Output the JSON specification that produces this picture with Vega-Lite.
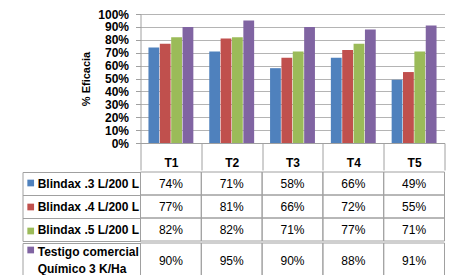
{
  "$schema": "https://vega.github.io/schema/vega-lite/v6.json",
  "padding": {"left": 21.5, "top": 8, "right": 5, "bottom": 0},
  "spacing": 0,
  "config": {"view": {"stroke": null}, "font": "Liberation Sans"},
  "datasets": {
    "d": [
      {"t": "T1", "s": "Blindax .3 L/200 L", "v": 0.74},
      {"t": "T1", "s": "Blindax .4 L/200 L", "v": 0.77},
      {"t": "T1", "s": "Blindax .5 L/200 L", "v": 0.82},
      {"t": "T1", "s": "Testigo comercial Químico 3 K/Ha", "v": 0.90},
      {"t": "T2", "s": "Blindax .3 L/200 L", "v": 0.71},
      {"t": "T2", "s": "Blindax .4 L/200 L", "v": 0.81},
      {"t": "T2", "s": "Blindax .5 L/200 L", "v": 0.82},
      {"t": "T2", "s": "Testigo comercial Químico 3 K/Ha", "v": 0.95},
      {"t": "T3", "s": "Blindax .3 L/200 L", "v": 0.58},
      {"t": "T3", "s": "Blindax .4 L/200 L", "v": 0.66},
      {"t": "T3", "s": "Blindax .5 L/200 L", "v": 0.71},
      {"t": "T3", "s": "Testigo comercial Químico 3 K/Ha", "v": 0.90},
      {"t": "T4", "s": "Blindax .3 L/200 L", "v": 0.66},
      {"t": "T4", "s": "Blindax .4 L/200 L", "v": 0.72},
      {"t": "T4", "s": "Blindax .5 L/200 L", "v": 0.77},
      {"t": "T4", "s": "Testigo comercial Químico 3 K/Ha", "v": 0.88},
      {"t": "T5", "s": "Blindax .3 L/200 L", "v": 0.49},
      {"t": "T5", "s": "Blindax .4 L/200 L", "v": 0.55},
      {"t": "T5", "s": "Blindax .5 L/200 L", "v": 0.71},
      {"t": "T5", "s": "Testigo comercial Químico 3 K/Ha", "v": 0.91}
    ]
  },
  "resolve": {
    "scale": {"x": "independent", "y": "independent", "color": "independent"},
    "axis": {"x": "independent", "y": "independent"},
    "legend": {"color": "independent"}
  },
  "vconcat": [
    {
      "width": 304,
      "height": 129,
      "data": {"name": "d"},
      "mark": {"type": "bar"},
      "encoding": {
        "x": {
          "field": "t", "type": "nominal",
          "scale": {"paddingInner": 0, "paddingOuter": 0},
          "axis": {
            "title": null, "orient": "bottom", "tickBand": "extent", "tickSize": 27,
            "tickColor": "#a0a0a0", "domainColor": "#a0a0a0", "labelAngle": 0,
            "labelFont": "Liberation Sans", "labelFontSize": 12, "labelFontWeight": "bold",
            "labelColor": "black", "labelBaseline": "middle", "labelPadding": -7.7
          }
        },
        "xOffset": {
          "field": "s", "type": "nominal",
          "sort": ["Blindax .3 L/200 L", "Blindax .4 L/200 L", "Blindax .5 L/200 L", "Testigo comercial Químico 3 K/Ha"],
          "scale": {"paddingOuter": 0.7, "paddingInner": 0.05}
        },
        "y": {
          "field": "v", "type": "quantitative",
          "scale": {"domain": [0, 1]},
          "axis": {
            "title": "% Eficacia",
            "values": [0, 0.1, 0.2, 0.3, 0.4, 0.5, 0.6, 0.7, 0.8, 0.9, 1],
            "format": ".0%",
            "labelFont": "Liberation Sans", "labelFontSize": 12, "labelFontWeight": "bold", "labelColor": "black",
            "titleFont": "Liberation Sans", "titleFontSize": 11, "titleFontWeight": "bold", "titleColor": "black",
            "tickSize": 5, "labelPadding": 7, "titlePadding": 6,
            "domainColor": "#a0a0a0", "tickColor": "#a0a0a0", "gridColor": "#b4b4b4"
          }
        },
        "color": {
          "field": "s", "type": "nominal",
          "scale": {
            "domain": ["Blindax .3 L/200 L", "Blindax .4 L/200 L", "Blindax .5 L/200 L", "Testigo comercial Químico 3 K/Ha"],
            "range": ["#4F81BD", "#C0504D", "#9BBB59", "#8064A2"]
          },
          "legend": null
        }
      }
    },
    {
      "width": 304,
      "height": 69,
      "data": {"name": "d"},
      "transform": [{"filter": "datum.s != 'Testigo comercial Químico 3 K/Ha'"}],
      "resolve": {"axis": {"y": "independent"}},
      "layer": [
        {
          "mark": {"type": "rect", "fill": "transparent", "stroke": "#a0a0a0", "strokeWidth": 1},
          "encoding": {
            "x": {"field": "t", "type": "nominal", "axis": null, "scale": {"paddingInner": 0, "paddingOuter": 0}},
            "y": {
              "field": "s", "type": "nominal",
              "sort": ["Blindax .3 L/200 L", "Blindax .4 L/200 L", "Blindax .5 L/200 L"],
              "scale": {"paddingInner": 0, "paddingOuter": 0},
              "axis": {
                "orient": "left", "offset": 118, "tickSize": -118, "tickBand": "extent",
                "domain": true, "domainColor": "#a0a0a0", "tickColor": "#a0a0a0",
                "labels": false, "title": null, "grid": false
              }
            }
          }
        },
        {
          "mark": {"type": "text", "font": "Liberation Sans", "fontSize": 12, "color": "black"},
          "encoding": {
            "x": {"field": "t", "type": "nominal", "axis": null},
            "y": {
              "field": "s", "type": "nominal",
              "sort": ["Blindax .3 L/200 L", "Blindax .4 L/200 L", "Blindax .5 L/200 L"],
              "axis": {
                "orient": "left", "ticks": false, "tickSize": 0, "domain": false,
                "labelAlign": "left", "labelPadding": 103.3,
                "labelFont": "Liberation Sans", "labelFontSize": 12, "labelFontWeight": "bold", "labelColor": "black",
                "title": null, "grid": false
              }
            },
            "text": {"field": "v", "type": "quantitative", "format": ".0%"}
          }
        },
        {
          "mark": {"type": "point", "shape": "square", "filled": true, "opacity": 0},
          "encoding": {
            "x": {"field": "t", "type": "nominal", "axis": null},
            "y": {"field": "s", "type": "nominal", "sort": ["Blindax .3 L/200 L", "Blindax .4 L/200 L", "Blindax .5 L/200 L"], "axis": null},
            "color": {
              "field": "s", "type": "nominal",
              "scale": {"domain": ["Blindax .3 L/200 L", "Blindax .4 L/200 L", "Blindax .5 L/200 L"], "range": ["#4F81BD", "#C0504D", "#9BBB59"]},
              "legend": {
                "title": null, "orient": "none", "legendX": -113.3, "legendY": 7.5,
                "symbolType": "square", "symbolSize": 45, "symbolOpacity": 1, "symbolStrokeWidth": 0,
                "labelExpr": "''", "labelFontSize": 7, "rowPadding": 16, "padding": 0
              }
            }
          }
        }
      ]
    },
    {
      "width": 304,
      "height": 35,
      "data": {"name": "d"},
      "transform": [{"filter": "datum.s == 'Testigo comercial Químico 3 K/Ha'"}],
      "resolve": {"axis": {"y": "independent"}},
      "layer": [
        {
          "mark": {"type": "rect", "fill": "transparent", "stroke": "#a0a0a0", "strokeWidth": 1},
          "encoding": {
            "x": {"field": "t", "type": "nominal", "axis": null, "scale": {"paddingInner": 0, "paddingOuter": 0}},
            "y": {
              "field": "s", "type": "nominal",
              "scale": {"paddingInner": 0, "paddingOuter": 0},
              "axis": {
                "orient": "left", "offset": 118, "tickSize": -118, "tickBand": "extent",
                "domain": true, "domainColor": "#a0a0a0", "tickColor": "#a0a0a0",
                "labels": false, "title": null, "grid": false
              }
            }
          }
        },
        {
          "mark": {"type": "text", "font": "Liberation Sans", "fontSize": 12, "color": "black"},
          "encoding": {
            "x": {"field": "t", "type": "nominal", "axis": null},
            "y": {
              "field": "s", "type": "nominal",
              "axis": {
                "orient": "left", "ticks": false, "tickSize": 0, "domain": false,
                "labelAlign": "left", "labelPadding": 103.3, "labelOffset": -8.5,
                "labelExpr": "datum.value == 'Testigo comercial Químico 3 K/Ha' ? ['Testigo comercial', '\u2002\u2002Químico 3 K/Ha'] : datum.label",
                "labelLineHeight": 17,
                "labelFont": "Liberation Sans", "labelFontSize": 12, "labelFontWeight": "bold", "labelColor": "black",
                "title": null, "grid": false
              }
            },
            "text": {"field": "v", "type": "quantitative", "format": ".0%"}
          }
        },
        {
          "mark": {"type": "point", "shape": "square", "filled": true, "opacity": 0},
          "encoding": {
            "x": {"field": "t", "type": "nominal", "axis": null},
            "y": {"field": "s", "type": "nominal", "axis": null},
            "color": {
              "field": "s", "type": "nominal",
              "scale": {"domain": ["Testigo comercial Químico 3 K/Ha"], "range": ["#8064A2"]},
              "legend": {
                "title": null, "orient": "none", "legendX": -113.3, "legendY": 3.5,
                "symbolType": "square", "symbolSize": 45, "symbolOpacity": 1, "symbolStrokeWidth": 0,
                "labelExpr": "''", "labelFontSize": 7, "padding": 0
              }
            }
          }
        }
      ]
    }
  ]
}
